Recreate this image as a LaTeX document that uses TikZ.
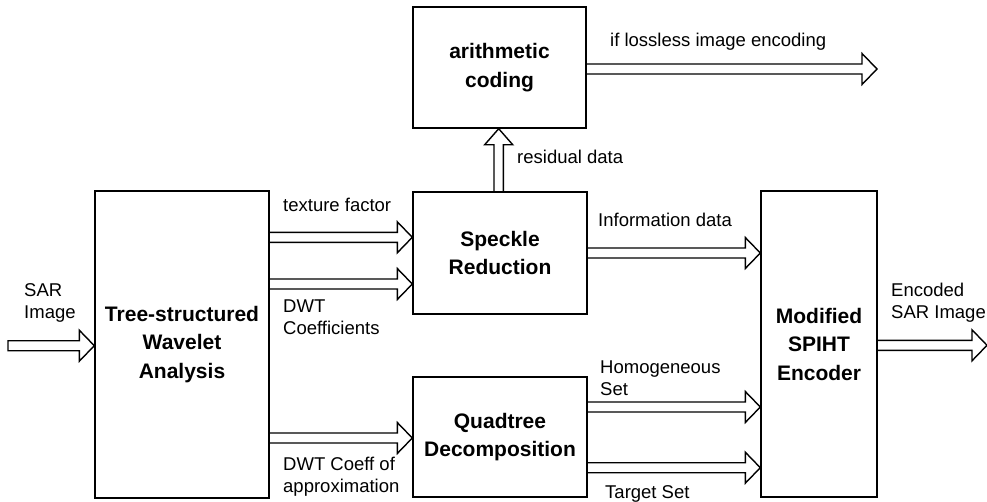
\documentclass[tikz,border=0pt]{standalone}
\usepackage{fontspec}
\setmainfont{Liberation Sans}
\usetikzlibrary{calc}
\begin{document}
\begin{tikzpicture}[x=1pt,y=1pt,
  box/.style={draw, line width=1.4pt, inner sep=0pt, align=center,
    font=\bfseries\fontsize{21}{28.5}\selectfont},
  lbl/.style={inner sep=0pt, anchor=base west, align=left,
    font=\fontsize{18.5}{22}\selectfont},
  % hollow block arrow pointing right, open at its tail
  hright/.style={line width=1.4pt, to path={
    let \p1=(\tikztostart), \p2=(\tikztotarget) in
    (\x1,\y1+5pt) -- (\x2-15pt,\y1+5pt) -- (\x2-15pt,\y1+15.5pt) -- (\x2,\y1)
    -- (\x2-15pt,\y1-15.5pt) -- (\x2-15pt,\y1-5pt) -- (\x1,\y1-5pt)}},
  % hollow block arrow pointing up, open at its tail
  hup/.style={line width=1.4pt, to path={
    let \p1=(\tikztostart), \p2=(\tikztotarget) in
    (\x1-4.7pt,\y1) -- (\x1-4.7pt,\y2-16pt) -- (\x1-14pt,\y2-16pt) -- (\x1,\y2)
    -- (\x1+14pt,\y2-16pt) -- (\x1+4.7pt,\y2-16pt) -- (\x1+4.7pt,\y1)}}
]
\useasboundingbox (0,0) rectangle (987,-501);

% processing blocks
\node[box, minimum width=174pt, minimum height=307pt] (tree) at (182,-344.5)
  {Tree-structured\\Wavelet\\Analysis};
\node[box, minimum width=174pt, minimum height=122pt] (speckle) at (500,-253)
  {Speckle\\Reduction};
\node[box, minimum width=174pt, minimum height=120pt] (quad) at (500,-437)
  {Quadtree\\Decomposition};
\node[box, minimum width=173pt, minimum height=121pt] (arith) at (499.5,-67.5)
  {arithmetic\\coding};
\node[box, minimum width=116pt, minimum height=306pt] (spiht) at (819,-344)
  {Modified\\SPIHT\\Encoder};

% free ends
\coordinate (sarin) at (8,-345.7);
\coordinate (sarout) at (987,-345.3);
\coordinate (lossless) at (877,-69);

% data flow
\draw[hright] (sarin) to (tree.west |- sarin) -- cycle;
\draw[hright] (tree.east |- 0,-237.3) to (speckle.west |- 0,-237.3);
\draw[hright] (tree.east |- 0,-284) to (speckle.west |- 0,-284);
\draw[hright] (tree.east |- 0,-438) to (quad.west |- 0,-438);
\draw[hright] (speckle.east |- 0,-253) to (spiht.west |- 0,-253);
\draw[hright] (quad.east |- 0,-407) to (spiht.west |- 0,-407);
\draw[hright] (quad.east |- 0,-467.7) to (spiht.west |- 0,-467.7);
\draw[hright] (spiht.east |- sarout) to (sarout);
\draw[hright] (arith.east |- lossless) to (lossless);
\draw[hup] (speckle.north -| 498.7,0) to (arith.south -| 498.7,0);

% labels (base anchor sits on the last line of a multi-line label)
\node[lbl] (sarlbl) at (24,-318) {SAR\\Image};
\node[lbl] (tex) at (283,-211.7) {texture factor};
\node[lbl] (dwtc) at (283,-334) {DWT\\Coefficients};
\node[lbl] (dwta) at (283,-492) {DWT Coeff of\\approximation};
\node[lbl] (info) at (598,-226) {Information data};
\node[lbl] (homog) at (600,-395.5) {Homogeneous\\Set};
\node[lbl] (tgt) at (605,-498) {Target Set};
\node[lbl] (resid) at (517,-163) {residual data};
\node[lbl] (loss) at (610,-46) {if lossless image encoding};
\node[lbl] (enc) at (891,-318) {Encoded\\SAR Image};
\end{tikzpicture}
\end{document}
